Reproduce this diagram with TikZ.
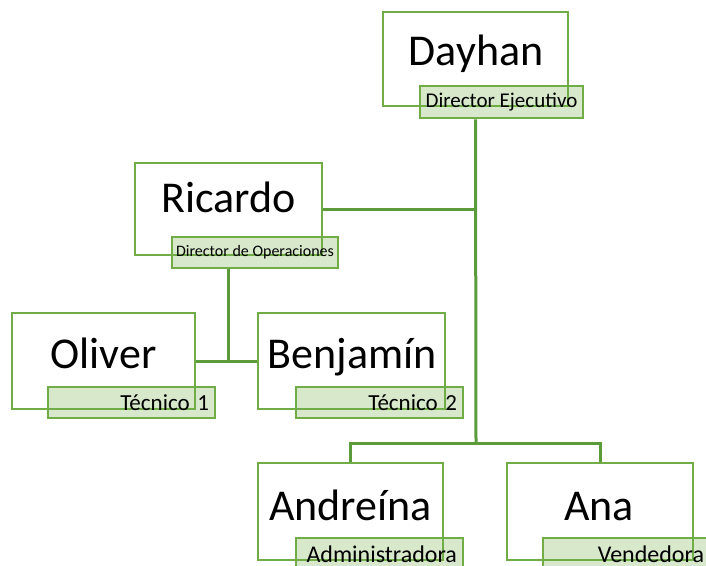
\documentclass[tikz,border=0pt]{standalone}
\usepackage{fontspec}
\setmainfont{Carlito}
\definecolor{og}{HTML}{70AD47}
\definecolor{cg}{HTML}{5B9B3A}
\tikzset{
  box/.style={draw=og, line width=2.8pt, fill=white, inner sep=0pt},
  lab/.style={draw=og, fill=og, fill opacity=0.28, text opacity=1, line width=2.8pt, inner sep=0pt, align=right},
  nametext/.style={anchor=base, inner sep=0pt, font=\fontsize{44}{48}\selectfont},
  conn/.style={draw=cg, line width=3pt}
}
\begin{document}
\begin{tikzpicture}[x=1pt, y=-1pt]
\useasboundingbox (0,0) rectangle (706,565);
% boxes
\node[box, minimum width=185pt, minimum height=94pt] (dayhan) at (475.5,59) {};
\node[box, minimum width=187pt, minimum height=92pt] (ricardo) at (228.5,209) {};
\node[box, minimum width=183pt, minimum height=96pt] (oliver) at (103.5,361) {};
\node[box, minimum width=187pt, minimum height=96pt] (benjamin) at (351.5,361) {};
\node[box, minimum width=185pt, minimum height=97pt] (andreina) at (350.5,511.5) {};
\node[box, minimum width=186pt, minimum height=97pt] (ana) at (600,511.5) {};
% names
\node[nametext] (tdayhan) at (476,65) {Dayhan};
\node[nametext] (tricardo) at (228.5,212) {Ricardo};
\node[nametext] (toliver) at (103.5,368) {Oliver};
\node[nametext] (tbenjamin) at (352,368) {Benjamín};
\node[nametext] (tandreina) at (350.5,520) {Andreína};
\node[nametext] (tana) at (599,520) {Ana};
% labels
\node[lab, minimum width=163pt, minimum height=32pt, align=center, font=\fontsize{21}{23}\selectfont] (dlab) at (501.5,102) {Director Ejecutivo};
\node[lab, minimum width=166pt, minimum height=31pt, align=center, font=\fontsize{16}{18}\selectfont] (rlab) at (255,252.5) {Director de Operaciones};
\node[lab, minimum width=167pt, minimum height=31pt, text width=155pt, font=\fontsize{23}{25}\selectfont] (olab) at (131.5,402.5) {Técnico 1};
\node[lab, minimum width=167pt, minimum height=31pt, text width=155pt, font=\fontsize{23}{25}\selectfont] (blab) at (379.5,402.5) {Técnico 2};
\node[lab, minimum width=167pt, minimum height=32pt, text width=155pt, font=\fontsize{24}{26}\selectfont] (alab) at (379.5,554) {Administradora};
\node[lab, minimum width=167pt, minimum height=32pt, text width=155pt, font=\fontsize{24}{26}\selectfont] (vlab) at (626.5,554) {Vendedora};
% connectors
\coordinate (bus) at (476,443);
\draw[conn] (dayhan.south |- dlab.south) -- (bus);
\draw[conn] (andreina.north) -- (andreina.north |- bus) -- (ana.north |- bus) -- (ana.north);
\draw[conn] (ricardo.east) -- (ricardo.east -| dayhan.south);
\draw[conn] (ricardo.south |- rlab.south) -- (ricardo.south |- oliver.east);
\draw[conn] (oliver.east) -- (benjamin.west);
\end{tikzpicture}
\end{document}
